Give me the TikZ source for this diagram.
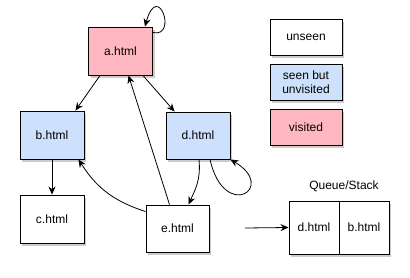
\documentclass[tikz,border=0pt]{standalone}
\usepackage{fontspec}
\setmainfont{Liberation Sans}
\usetikzlibrary{shadows,arrows.meta}
\definecolor{pinkvis}{RGB}{255,184,194}
\definecolor{bluesee}{RGB}{205,225,252}
\begin{document}
\begin{tikzpicture}[x=1pt,y=-1pt,
  box/.style={draw=black,line width=0.9pt,inner sep=1pt,align=center,
    font=\fontsize{12}{14}\selectfont,
    drop shadow={shadow xshift=2pt,shadow yshift=-3pt,opacity=0.4}},
  page/.style={box,minimum width=64pt,minimum height=48pt},
  leg/.style={box,minimum width=72pt,minimum height=36pt},
  cell/.style={box,minimum width=50pt,minimum height=53pt},
  link/.style={line width=0.8pt,-{Stealth[length=8pt,width=7pt]}}]
\useasboundingbox (0,0) rectangle (410,278);
\node[page,fill=pinkvis] (a) at (120.5,51) {a.html};
\node[page,fill=bluesee] (b) at (52,135) {b.html};
\node[page,fill=bluesee,minimum height=47pt] (d) at (198,135.5) {d.html};
\node[page,fill=white] (c) at (52,219) {c.html};
\node[page,fill=white,minimum width=63pt,minimum height=47pt] (e) at (177.5,228.5) {e.html};
\node[leg,fill=white] (unseen) at (306,37) {unseen};
\node[leg,fill=bluesee] (seen) at (306,82) {seen but\\unvisited};
\node[leg,fill=pinkvis] (visited) at (306,127) {visited};
\node[cell,fill=white] (q1) at (314,227.5) {d.html};
\node[cell,fill=white] (q2) at (364,227.5) {b.html};
\node[font=\fontsize{12}{14}\selectfont] (qlabel) at (344,186) {Queue/Stack};
\coordinate (qs) at (245,228);
% connectors
\draw[link] ([yshift=-6pt]a.north east) .. controls (178,38) and (158,-20) .. ([xshift=-8pt]a.north east);
\draw[link] ([xshift=12pt]a.south west) -- ([xshift=-9pt]b.north east);
\draw[link] ([xshift=-10pt]a.south east) -- ([xshift=9pt]d.north west);
\draw[link] ([xshift=-8pt]e.north) -- ([xshift=8pt]a.south);
\draw[link] ([yshift=-7pt]e.north west) .. controls (110,200) and (95,185) .. ([xshift=-6pt]b.south east);
\draw[link] ([xshift=1pt]d.south) .. controls (201,180) and (195,190) .. ([xshift=11pt]e.north);
\draw[link] ([xshift=12pt]d.south) .. controls (224,222) and (278,188) .. (d.south east);
\draw[link] (b.south) -- (c.north);
\draw[link] (qs) -- (q1.west);
\end{tikzpicture}
\end{document}
